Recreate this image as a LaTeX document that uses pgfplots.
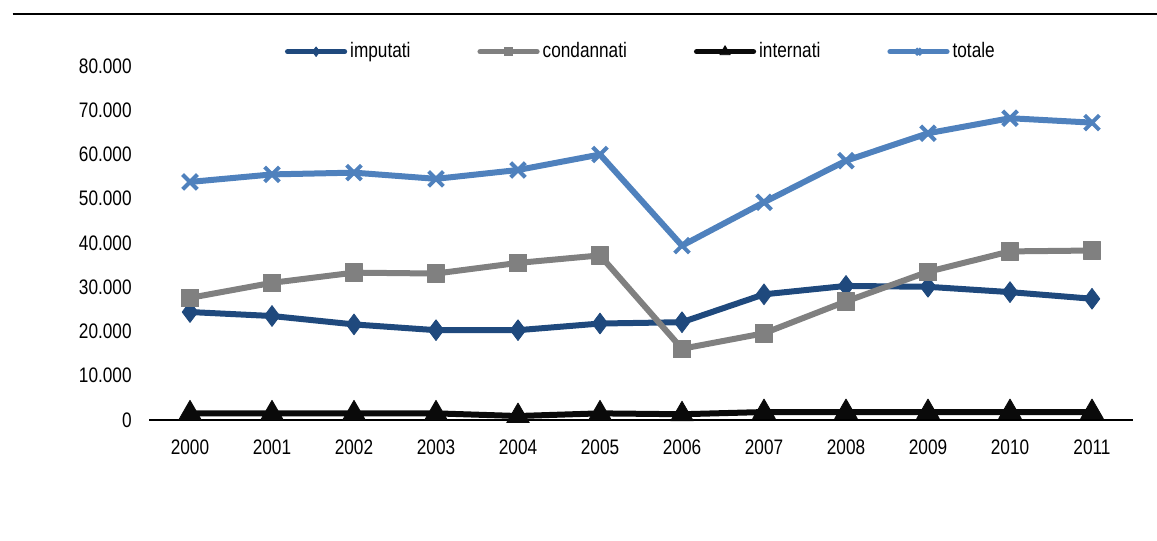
\documentclass[border=0pt]{standalone}
\usepackage{fontspec}
\setmainfont{Liberation Sans}[FakeStretch=0.82]
\usepackage{pgfplots}
\pgfplotsset{compat=1.18}
\definecolor{cimp}{RGB}{31,73,125}
\definecolor{ccon}{RGB}{128,128,128}
\definecolor{cint}{RGB}{10,10,10}
\definecolor{ctot}{RGB}{79,129,189}
\newcommand{\lf}{\fontsize{10.5bp}{12bp}\selectfont}
\pgfplotsset{mylegimg/.style={legend image code/.code={\draw[##1, line width=2.6bp, mark size=#1, mark repeat=2, mark phase=2] plot coordinates {(0bp,0bp) (14.25bp,0bp) (28.5bp,0bp)};}},
  sty/.style={line width=3bp, line join=round, line cap=round}}
\begin{document}
\begin{tikzpicture}
\useasboundingbox (0,0) rectangle (578.5bp,270.5bp);
\draw[line width=1.25bp] (6.3bp,263.5bp) -- (578.5bp,263.5bp);
\begin{axis}[
  at={(74.5bp,60.5bp)}, anchor=south west,
  scale only axis, width=492bp, height=177bp,
  clip=false,
  xmin=-0.5, xmax=11.5, ymin=0, ymax=80000,
  xtick={0,...,11},
  xticklabels={2000,2001,2002,2003,2004,2005,2006,2007,2008,2009,2010,2011},
  ytick={0,10000,...,80000},
  scaled y ticks=false,
  /pgf/number format/.cd, 1000 sep={.}, assume math mode=true, /pgfplots/.cd,
  axis x line=bottom, axis y line=left,
  x axis line style={-, line width=0.75bp, black},
  y axis line style={draw=none},
  major tick length=0pt,
  yticklabel style={font=\lf, anchor=east, inner sep=0pt, xshift=-8.5bp},
  xticklabel style={font=\lf, anchor=north, inner sep=0pt, yshift=-9.75bp},
  legend columns=4,
  legend style={at={(0.1382,1.0404)}, anchor=west, draw=none, fill=none,
    inner sep=0pt, outer sep=0pt, font=\lf,
    /tikz/every even column/.append style={column sep=32bp},
    nodes={inner sep=1.5bp}},
]
\addplot[sty, color=cimp, mark=diamond*, mark size=5.2bp, mark options={solid, fill=cimp, line width=0.4bp}, mylegimg=2.4bp]
  coordinates {(0,24400) (1,23500) (2,21600) (3,20300) (4,20300) (5,21800) (6,22100) (7,28400) (8,30300) (9,30100) (10,28900) (11,27400)};
\addlegendentry{imputati}
\addplot[sty, color=ccon, mark=square*, mark size=4.4bp, mark options={solid, fill=ccon, line width=0.4bp}, mylegimg=2.1bp]
  coordinates {(0,27600) (1,31000) (2,33300) (3,33100) (4,35500) (5,37200) (6,16100) (7,19600) (8,26800) (9,33500) (10,38100) (11,38300)};
\addlegendentry{condannati}
\addplot[sty, color=cint, mark=triangle*, mark size=6.5bp, mark options={solid, fill=cint, line width=0.4bp}, mylegimg=3bp]
  coordinates {(0,1500) (1,1500) (2,1500) (3,1500) (4,900) (5,1500) (6,1300) (7,1800) (8,1800) (9,1800) (10,1800) (11,1800)};
\addlegendentry{internati}
\addplot[sty, color=ctot, mark=x, mark size=5.2bp, mark options={solid, line width=2bp, line cap=butt}, mylegimg=2bp]
  coordinates {(0,53800) (1,55500) (2,55900) (3,54500) (4,56500) (5,60000) (6,39400) (7,49200) (8,58600) (9,64800) (10,68200) (11,67200)};
\addlegendentry{totale}
\end{axis}
\end{tikzpicture}
\end{document}
